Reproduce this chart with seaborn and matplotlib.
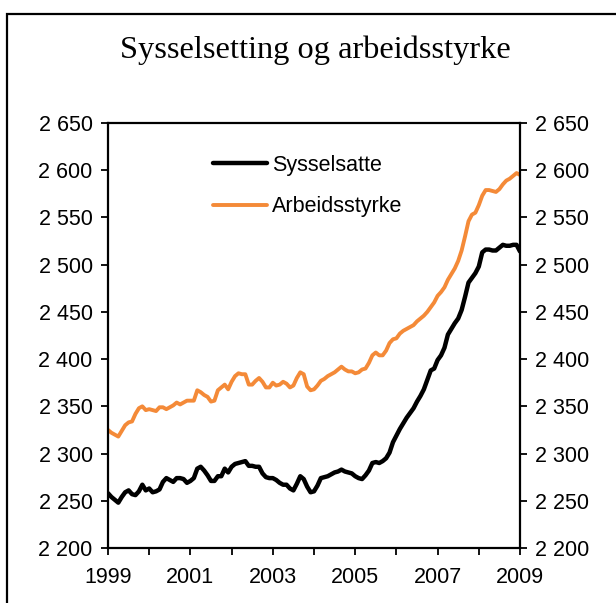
import numpy as np
import pandas as pd
import seaborn as sns
import matplotlib.pyplot as plt
from matplotlib.ticker import FuncFormatter, MultipleLocator
from matplotlib.patches import Rectangle

# monthly figures, Jan 1999 - Jan 2009 (thousands)
sysselsatte = [
    2258, 2254, 2251, 2248, 2254, 2259, 2261, 2257, 2256, 2260, 2267, 2261,
    2263, 2259, 2260, 2262, 2270, 2274, 2272, 2270, 2274, 2274, 2273, 2269,
    2271, 2274, 2284, 2286, 2282, 2277, 2271, 2271, 2276, 2276, 2284, 2280,
    2286, 2289, 2290, 2291, 2292, 2287, 2287, 2286, 2286, 2279, 2275, 2274,
    2274, 2272, 2269, 2267, 2267, 2263, 2261, 2268, 2276, 2273, 2265, 2259,
    2260, 2266, 2274, 2275, 2276, 2278, 2280, 2281, 2283, 2281, 2280, 2279,
    2276, 2274, 2273, 2277, 2282, 2290, 2291, 2290, 2292, 2295, 2301, 2312,
    2319, 2326, 2332, 2338, 2343, 2348, 2355, 2361, 2368, 2378, 2388, 2390,
    2399, 2404, 2412, 2426, 2432, 2438, 2443, 2452, 2466, 2481, 2486, 2491,
    2498, 2513, 2516, 2516, 2515, 2515, 2518, 2521, 2520, 2520, 2521, 2521,
    2514,
]
arbeidsstyrke = [
    2325, 2322, 2320, 2318, 2324, 2330, 2333, 2334, 2342, 2348, 2350, 2346,
    2347, 2346, 2345, 2349, 2349, 2347, 2349, 2351, 2354, 2352, 2354, 2356,
    2356, 2356, 2367, 2365, 2362, 2360, 2355, 2356, 2367, 2370, 2373, 2368,
    2376, 2382, 2385, 2384, 2384, 2373, 2373, 2377, 2380, 2376, 2370, 2370,
    2375, 2372, 2373, 2376, 2374, 2370, 2372, 2380, 2386, 2384, 2371, 2367,
    2368, 2372, 2377, 2379, 2382, 2384, 2386, 2389, 2392, 2389, 2387, 2387,
    2385, 2386, 2389, 2390, 2396, 2404, 2407, 2404, 2404, 2409, 2417, 2421,
    2422, 2427, 2430, 2432, 2434, 2436, 2440, 2443, 2446, 2450, 2455, 2460,
    2467, 2471, 2476, 2484, 2490, 2496, 2504, 2515, 2530, 2546, 2553, 2555,
    2563, 2573, 2579, 2579, 2578, 2577, 2580, 2585, 2589, 2591, 2594, 2597,
    2595,
]
year_labels = [1999, 2001, 2003, 2005, 2007, 2009]

df = pd.DataFrame({
    "tid": 1999 + np.arange(len(sysselsatte)) / 12,
    "Sysselsatte": sysselsatte,
    "Arbeidsstyrke": arbeidsstyrke,
})

sns.set_style("white")
plt.rcParams["font.family"] = ["Liberation Sans", "DejaVu Sans"]
plt.rcParams["text.color"] = "black"

fig = plt.figure(figsize=(6.16, 6.03), dpi=100)
ax = fig.add_axes([108 / 616, 1 - 548 / 603, 412 / 616, 425 / 603])

sns.lineplot(data=df, x="tid", y="Sysselsatte", color="black", lw=3.2, ax=ax, label="Sysselsatte")
sns.lineplot(data=df, x="tid", y="Arbeidsstyrke", color="#F48A38", lw=2.8, ax=ax, label="Arbeidsstyrke")

ax.set_xlim(1999, 2009)
ax.set_ylim(2200, 2650)
ax.set_xticks(year_labels)
ax.xaxis.set_minor_locator(MultipleLocator(1))
ax.yaxis.set_major_locator(MultipleLocator(50))
ax.yaxis.set_major_formatter(FuncFormatter(lambda v, p: f"{int(v):,}".replace(",", " ")))
ax.set_xlabel("")
ax.set_ylabel("")

for s in ax.spines.values():
    s.set_visible(True)
    s.set_color("black")
    s.set_linewidth(1.6)

ax.tick_params(axis="y", which="major", left=True, right=True, labelright=True,
               direction="out", length=5, width=1.3, pad=6, labelsize=15.5, colors="black")
ax.tick_params(axis="x", which="both", bottom=True, direction="out", length=5, width=1.3,
               pad=9, labelsize=15.5, colors="black")

ax.legend(loc="center left", bbox_to_anchor=(213 / 616, 1 - 186 / 603), bbox_transform=fig.transFigure,
          frameon=False, fontsize=15.5, handlelength=2.5, handletextpad=0.25,
          labelspacing=0.95, borderpad=0, borderaxespad=0)

fig.text(0.512, 1 - 50 / 603, "Sysselsetting og arbeidsstyrke", ha="center", va="center",
         family=["Liberation Serif", "DejaVu Serif"], fontsize=23.3, color="black")

# outer frame, cut off on right and bottom like the original
fig.patches.append(Rectangle((7 / 616, -0.05), 1.1, 1 - 14 / 603 + 0.05, transform=fig.transFigure,
                             fill=False, edgecolor="black", linewidth=1.6, clip_on=False))

fig.savefig("out.png", dpi=100)
